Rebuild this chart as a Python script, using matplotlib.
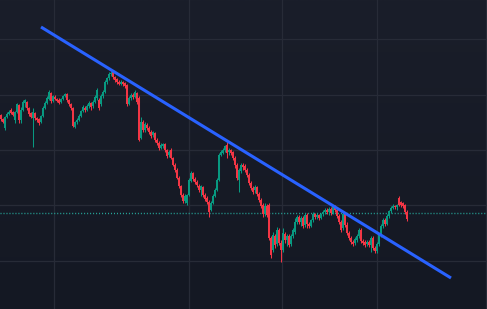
import numpy as np
import matplotlib
matplotlib.use("Agg")
import matplotlib.pyplot as plt
from matplotlib.colors import LinearSegmentedColormap

# ---- data (price units) ----
opens = [185,181,172,183,186,190,188,180,188,195,180,190,197,198,192,187,182,187,182,181,
         178,184,192,197,201,207,199,203,201,200,198,201,204,206,200,196,192,173,178,180,
         184,189,192,190,194,197,194,198,202,200,196,204,208,218,222,226,228,223,221,218,
         216,218,217,215,196,202,205,203,207,202,162,178,170,175,172,168,165,167,160,157,
         152,154,156,150,145,150,142,135,130,122,114,105,99,97,105,119,127,121,118,114,
         110,113,105,102,98,90,97,104,110,120,145,147,150,155,148,150,148,142,135,120,
         129,135,134,130,125,117,112,110,113,106,100,95,86,94,95,62,50,64,56,70,
         57,50,66,60,64,56,64,68,78,83,78,82,75,85,76,74,80,86,83,85,
         82,86,88,90,88,91,87,93,90,84,78,72,86,75,67,62,58,57,60,64,
         70,59,58,56,58,55,62,52,49,56,65,74,80,76,84,89,92,94,93,102,
         98,97,95,88]
highs = [186,182,184,188,190,192,189,189,197,196,193,200,201,199,193,188,192,188,183,182,
         185,194,199,204,210,208,205,205,202,202,202,205,207,207,201,197,193,179,182,186,
         190,195,194,196,199,198,200,205,212,202,206,210,220,223,228,229,229,224,222,220,
         220,219,218,216,204,207,207,210,208,204,183,180,178,177,174,170,169,168,162,159,
         157,157,157,151,150,152,143,137,132,124,115,107,106,106,122,129,128,123,120,116,
         115,114,107,104,100,99,106,112,122,147,150,152,155,158,152,151,149,144,137,132,
         137,137,136,132,127,119,114,115,114,108,102,97,97,96,97,64,68,66,73,72,
         60,72,68,66,66,66,72,82,85,85,84,84,87,87,78,81,88,87,87,86,
         87,90,92,92,93,93,95,95,92,86,80,88,88,78,69,64,60,63,66,72,
         72,61,60,60,60,64,64,54,58,67,76,82,82,86,90,94,96,95,96,104,
         99,98,96,90]
lows = [179,177,170,182,185,186,184,177,187,177,177,189,193,190,184,182,153,180,178,175,
        177,183,191,196,200,197,198,200,198,196,197,200,203,198,194,190,173,172,176,179,
        183,188,188,189,192,190,192,197,200,190,194,202,207,216,220,224,221,218,216,215,
        215,214,212,194,195,200,201,202,196,159,161,168,168,170,166,162,163,158,155,150,
        151,152,148,142,143,141,134,128,121,112,103,97,97,95,104,118,119,116,113,108,
        104,103,99,96,83,89,96,103,109,119,144,146,148,142,145,145,140,132,120,108,
        127,130,128,123,115,110,106,107,104,98,92,83,84,83,60,42,48,52,54,55,
        38,48,57,54,53,54,62,66,76,76,74,72,73,72,72,73,78,81,81,80,
        81,84,86,86,85,85,86,88,82,76,68,70,73,65,60,56,54,55,58,62,
        57,55,53,54,53,48,50,47,47,54,63,72,74,75,82,87,91,91,90,94,
        93,92,86,79]
closes = [181,178,183,186,188,187,185,188,196,180,190,198,200,192,186,183,188,182,180,177,
          184,192,197,202,208,199,204,201,199,197,201,204,206,200,196,192,174,178,180,184,
          189,193,190,194,197,193,198,203,210,192,204,208,218,222,226,227,223,220,218,216,
          218,216,214,196,202,205,203,208,198,160,178,170,176,172,168,164,168,160,157,152,
          155,156,150,144,148,142,135,130,122,114,105,99,104,105,120,127,121,118,115,110,
          114,105,101,98,88,97,104,110,120,145,148,150,154,147,150,147,142,135,122,130,
          135,133,130,125,117,112,108,113,106,100,94,86,94,85,62,45,65,55,70,57,
          50,67,60,64,55,64,70,78,83,78,82,74,85,76,74,80,86,83,85,82,
          86,88,90,88,91,87,93,90,84,78,70,86,75,67,62,58,56,61,64,70,
          59,57,55,58,55,62,52,49,56,65,74,80,76,84,89,92,94,93,95,95,
          95,94,88,81]

trend_x = [20, 225]
trend_y = [273, 22]
last_price = 87
h_grid = [39, 95, 150, 205, 261]
v_grid = [26.5, 94, 140.5, 188, 242.5]

UP = "#089981"
DOWN = "#f23645"

W, H = 487, 309
fig = plt.figure(figsize=(W / 100, H / 100), dpi=100)
ax = fig.add_axes([0, 0, 1, 1])
xlim = (-0.5, 243.0)
ylim = (-9, 300)
ax.set_xlim(*xlim)
ax.set_ylim(*ylim)

# gradient background
cmap = LinearSegmentedColormap.from_list("bg", ["#141823", "#1a1e2a"])
grad = np.linspace(0, 1, 256).reshape(-1, 1)
ax.imshow(grad, aspect="auto", cmap=cmap, origin="lower",
          extent=[xlim[0], xlim[1], ylim[0], ylim[1]], zorder=0)

for g in h_grid:
    ax.axhline(g, color="#272b37", lw=0.9, zorder=1)
for g in v_grid:
    ax.axvline(g, color="#272b37", lw=0.9, zorder=1)

n = len(closes)
x = np.arange(n)
o = np.array(opens, float)
c = np.array(closes, float)
hi = np.array(highs, float)
lo = np.array(lows, float)
colors = [UP if cc >= oo else DOWN for oo, cc in zip(o, c)]

ax.vlines(x, lo, hi, colors=colors, lw=0.75, zorder=3)
body_h = np.maximum(np.abs(c - o), 1.0)
ax.bar(x, body_h, bottom=np.minimum(o, c), width=0.7, color=colors,
       linewidth=0, zorder=4)

ax.axhline(last_price, color="#26a69a", lw=1.0, ls=(0, (0.75, 1.4)), zorder=2)

ax.plot(trend_x, trend_y, color="#2962ff", lw=2.2, solid_capstyle="butt", zorder=5)

ax.set_axis_off()
fig.savefig("out.png", dpi=100)
